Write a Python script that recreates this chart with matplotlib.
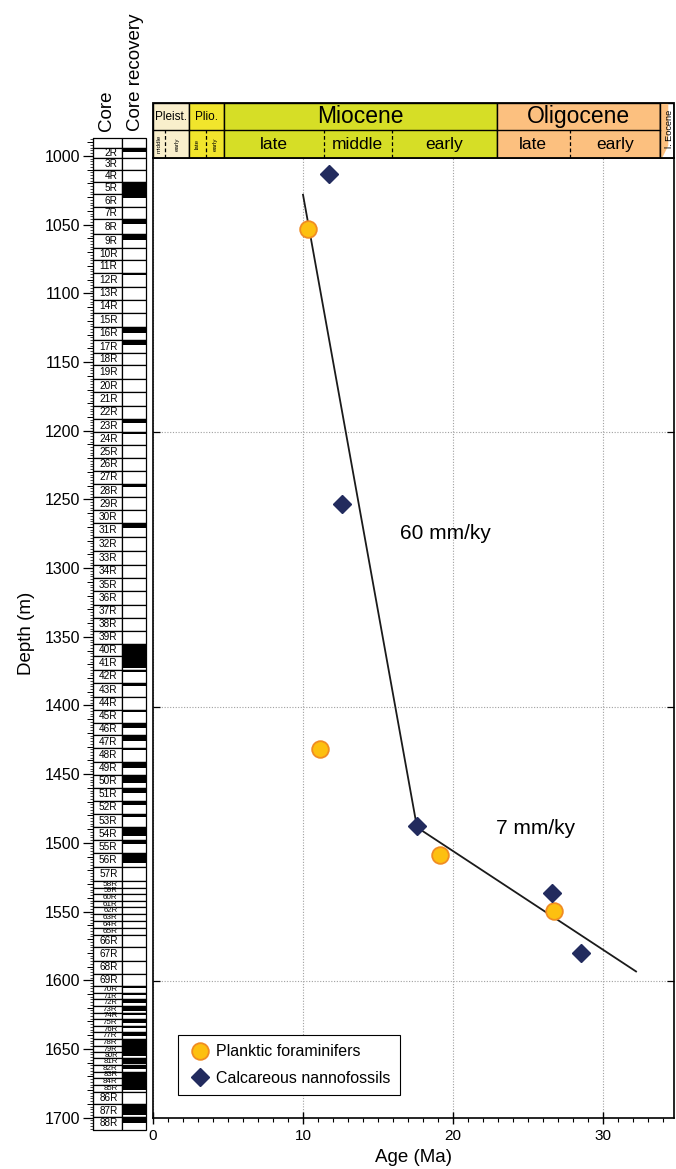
import matplotlib.pyplot as plt
from matplotlib.patches import Rectangle, Polygon
from matplotlib.ticker import MultipleLocator

plt.rcParams['font.family'] = ['Liberation Sans', 'DejaVu Sans']

# ---- age-depth data ----
pf_age = [10.3, 11.1, 19.1, 26.7]
pf_depth = [1051.7, 1431.0, 1508.2, 1549.3]
nn_age = [11.7, 12.6, 17.6, 26.6, 28.5]
nn_depth = [1011.6, 1252.5, 1487.0, 1536.0, 1579.5]
rate_age = [10.0, 17.6, 32.2]
rate_depth = [1027.0, 1488.0, 1593.0]
rate_labels = ["60 mm/ky", "7 mm/ky"]
rate_label_pos = [(19.5, 1274.0), (25.5, 1489.0)]

# ---- chronostratigraphy header ----
epochs = ["Pleist.", "Plio.", "Miocene", "Oligocene"]
epoch_start = [0.0, 2.42, 4.75, 22.9]
epoch_end = [2.42, 4.75, 22.9, 33.8]
epoch_colors = ['#F9EFCC', '#F1E52C', '#D6DE26', '#FCC07F']
sub_names = ["middle", "early", "late", "early", "late", "middle", "early", "late", "early"]
sub_start = [0.0, 0.8, 2.42, 3.5, 4.75, 11.4, 15.9, 22.9, 27.8]
sub_end = [0.8, 2.42, 3.5, 4.75, 11.4, 15.9, 22.9, 27.8, 33.8]
sub_epoch = [0, 0, 1, 1, 2, 2, 2, 3, 3]
eocene_start = 33.8
age_max = 34.73

# ---- cores ----
core_names = [f"{i}R" for i in range(2, 89)]
core_tops = [994.4, 1001.5, 1010.5, 1019.3, 1028.0, 1037.1, 1046.2, 1056.5, 1066.9, 1075.5,
             1085.3, 1095.3, 1104.8, 1114.3, 1124.2, 1134.2, 1143.2, 1152.3, 1162.2, 1172.1,
             1181.7, 1191.4, 1201.2, 1210.6, 1219.8, 1229.1, 1238.8, 1248.5, 1257.9, 1267.3,
             1277.4, 1287.7, 1297.6, 1307.3, 1317.0, 1326.5, 1336.0, 1345.7, 1355.0, 1364.1,
             1373.9, 1383.8, 1393.5, 1403.2, 1412.6, 1421.7, 1431.1, 1440.8, 1450.5, 1460.0,
             1469.3, 1478.9, 1488.6, 1498.2, 1507.7, 1517.5, 1527.5, 1532.6, 1537.2, 1542.1,
             1547.0, 1551.8, 1556.7, 1561.7, 1566.8, 1576.1, 1585.9, 1595.2, 1604.5, 1609.5,
             1614.0, 1618.6, 1623.5, 1628.3, 1633.2, 1638.0, 1642.9, 1647.8, 1652.3, 1656.8,
             1661.6, 1666.5, 1671.3, 1676.2, 1681.0, 1690.3, 1699.4]
core_base = 1709.0
recovery = [0.35, 0.05, 0.0, 1.0, 0.3, 0.0, 0.35, 0.45, 0.0, 0.0,
            0.15, 0.0, 0.0, 0.05, 0.5, 0.4, 0.0, 0.0, 0.0, 0.05,
            0.1, 0.3, 0.1, 0.0, 0.05, 0.0, 0.25, 0.0, 0.05, 0.35,
            0.0, 0.0, 0.0, 0.0, 0.0, 0.0, 0.0, 0.0, 1.0, 0.9,
            0.2, 0.2, 0.05, 0.2, 0.4, 0.45, 0.15, 0.5, 0.6, 0.4,
            0.35, 0.2, 0.7, 0.3, 0.7, 0.0, 0.15, 0.15, 0.2, 0.15,
            0.15, 0.15, 0.15, 0.15, 0.0, 0.0, 0.0, 0.1, 0.3, 0.2,
            0.6, 0.7, 0.3, 0.6, 0.3, 0.5, 1.0, 1.0, 0.7, 0.8,
            0.6, 1.0, 1.0, 0.7, 0.0, 0.85, 0.5]
core_head_top = 986.7

W, H = 676, 1169
fig = plt.figure(figsize=(W / 100, H / 100), dpi=100)


def box(l, t, r, b):
    return [l / W, 1 - b / H, (r - l) / W, (b - t) / H]


ax = fig.add_axes(box(153, 157.7, 674, 1118.3))
hax = fig.add_axes(box(153, 103.3, 674, 157.7))
cax = fig.add_axes(box(92.5, 137.7, 145.7, 1130))

# ---- main plot ----
ax.set_xlim(0, age_max)
ax.set_ylim(1700, 1000)
ax.set_xticks([0, 10, 20, 30])
ax.xaxis.set_minor_locator(MultipleLocator(1))
ax.set_yticks([1200, 1400, 1600])
ax.set_yticklabels([])
ax.tick_params(axis='y', direction='in', left=True, right=True, length=5, width=0.9)
ax.tick_params(axis='x', which='major', direction='inout', length=8, width=1.0, labelsize=11, pad=4)
ax.tick_params(axis='x', which='minor', direction='out', length=3, width=0.8)
ax.grid(True, which='major', color='#a0a0a0', linestyle=(0, (1, 1.5)), linewidth=0.8)
for s in ax.spines.values():
    s.set_linewidth(1.2)

ax.plot(rate_age, rate_depth, color='#1a1a1a', lw=1.3, zorder=3)
ax.plot(pf_age, pf_depth, 'o', ms=12, mfc='#FDC010', mec='#F08C23', mew=1.3, zorder=4,
        label='Planktic foraminifers')
ax.plot(nn_age, nn_depth, 'D', ms=9, color='#222B5E', zorder=4,
        label='Calcareous nannofossils')
for txt, (xa, yd) in zip(rate_labels, rate_label_pos):
    ax.text(xa, yd, txt, fontsize=15, ha='center', va='center')

leg = ax.legend(loc='lower left', bbox_to_anchor=(0.048, 0.024), borderaxespad=0,
                fontsize=11.5, fancybox=False, edgecolor='black', framealpha=1,
                borderpad=0.6, handletextpad=0.3, labelspacing=0.7, handlelength=1.5)
leg.get_frame().set_linewidth(0.8)
ax.set_xlabel('Age (Ma)', fontsize=13.5, labelpad=4)

# ---- header ----
hax.set_xlim(0, age_max)
hax.set_ylim(0, 2)
hax.axis('off')
for name, a0, a1, col in zip(epochs, epoch_start, epoch_end, epoch_colors):
    hax.add_patch(Rectangle((a0, 0), a1 - a0, 2, fc=col, ec='black', lw=1.0))
    hax.plot([a0, a1], [1, 1], color='black', lw=1.0)
    fs = 16.5 if a1 - a0 > 5 else 8.5
    hax.text((a0 + a1) / 2, 1.5, name, ha='center', va='center', fontsize=fs)
for name, a0, a1, ep in zip(sub_names, sub_start, sub_end, sub_epoch):
    if a0 > epoch_start[ep]:
        hax.plot([a0, a0], [0, 1], color='black', lw=0.9, ls=(0, (3, 2)))
    if a1 - a0 > 2:
        hax.text((a0 + a1) / 2, 0.47, name, ha='center', va='center', fontsize=12.5)
    else:
        hax.text((a0 + a1) / 2, 0.5, name, ha='center', va='center', fontsize=4.5, rotation=90)
hax.add_patch(Rectangle((eocene_start, 0), age_max - eocene_start, 2, fc='white', ec='black', lw=1.0))
hax.add_patch(Polygon([(eocene_start, 0), (eocene_start, 2), (eocene_start + 0.55, 2),
                       (eocene_start + 0.55, 0.45), (eocene_start + 0.15, 0)],
                      closed=True, fc='#FCC07F', ec='none'))
hax.plot([eocene_start, eocene_start], [0, 2], color='black', lw=1.0)
hax.text((eocene_start + age_max) / 2 + 0.15, 1.05, 'l. Eocene', ha='center', va='center',
         fontsize=6.6, rotation=90)
hax.add_patch(Rectangle((0, 0), age_max, 2, fc='none', ec='black', lw=1.3, clip_on=False))

# ---- core column ----
div = 0.56
cax.set_xlim(0, 1)
cax.set_ylim(core_base, core_head_top)
for k in ['top', 'right', 'bottom']:
    cax.spines[k].set_visible(False)
cax.spines['left'].set_linewidth(0.8)
cax.set_xticks([])
cax.yaxis.set_major_locator(MultipleLocator(50))
cax.yaxis.set_minor_locator(MultipleLocator(2))
cax.tick_params(axis='y', which='major', length=7, width=0.9, labelsize=11.5, pad=2)
cax.tick_params(axis='y', which='minor', length=2.5, width=0.5)
sec = cax.secondary_yaxis('left')
sec.yaxis.set_major_locator(MultipleLocator(10))
sec.tick_params(length=4.5, width=0.7, labelleft=False)
sec.spines['left'].set_visible(False)
cax.set_ylabel('Depth (m)', fontsize=13.5, labelpad=7)

cax.add_patch(Rectangle((0, core_head_top), div, core_tops[0] - core_head_top, fc='white',
                        ec='black', lw=0.9, clip_on=False))
cax.add_patch(Rectangle((div, core_head_top), 1 - div, core_tops[0] - core_head_top, fc='white',
                        ec='black', lw=0.9, clip_on=False))

px_per_m = (1130 - 137.7) / (core_base - core_head_top)
bottoms = core_tops[1:] + [core_base]
for name, top, bot, rec in zip(core_names, core_tops, bottoms, recovery):
    ln = bot - top
    cax.add_patch(Rectangle((0, top), div, ln, fc='white', ec='black', lw=0.9, clip_on=False))
    cax.add_patch(Rectangle((div, top), 1 - div, ln, fc='white', ec='black', lw=0.9, clip_on=False))
    if rec > 0:
        cax.add_patch(Rectangle((div, top), 1 - div, ln * rec, fc='black', ec='none', clip_on=False))
    fs = min(7.2, ln * px_per_m * 0.85)
    cax.text(0.47, top + ln / 2, name, ha='right', va='center', fontsize=fs)

fig.text(107 / W, 1 - 131 / H, 'Core', rotation=90, ha='center', va='bottom', fontsize=13.5)
fig.text(135 / W, 1 - 131 / H, 'Core recovery', rotation=90, ha='center', va='bottom', fontsize=13.5)

fig.savefig('out.png', dpi=100)
